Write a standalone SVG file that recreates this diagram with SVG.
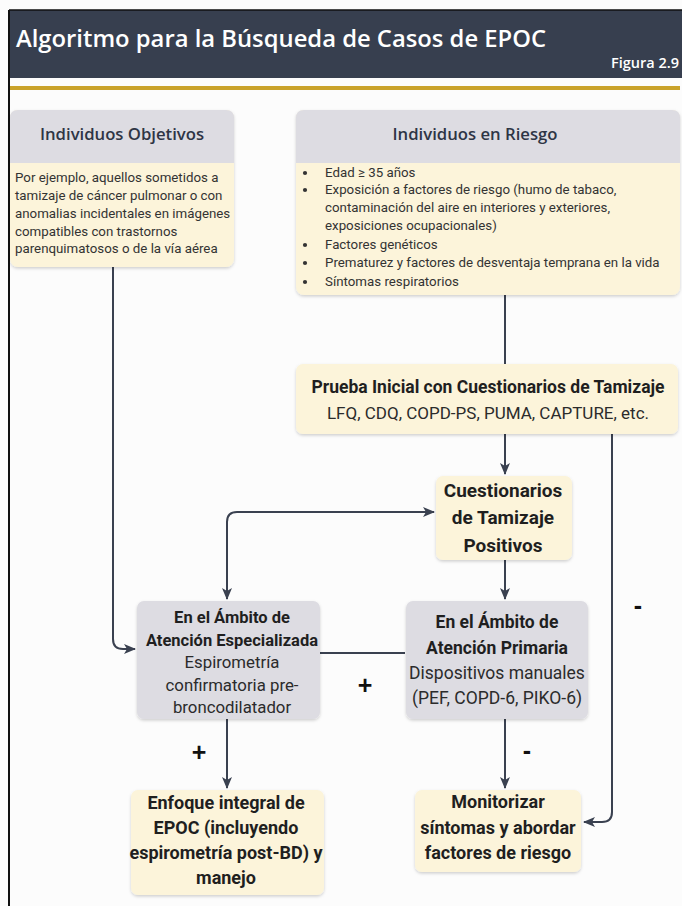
<svg xmlns="http://www.w3.org/2000/svg" width="682" height="906" viewBox="0 0 682 906">
<defs>
<marker id="ah" viewBox="0 0 12 10" refX="11" refY="5" markerWidth="12" markerHeight="10" markerUnits="userSpaceOnUse" orient="auto-start-reverse">
<path d="M0,0 L12,5 L0,10 L3,5 Z" fill="#3a4150"/>
</marker>
<filter id="sh" x="-10%" y="-10%" width="120%" height="130%">
<feDropShadow dx="0" dy="1.5" stdDeviation="1.5" flood-color="#000" flood-opacity="0.18"/>
</filter>
</defs>
<style>
.hdr{font-family:"Open Sans","Liberation Sans",sans-serif;font-weight:600;fill:#2e3545}
.body{font-family:Roboto,"Liberation Sans",sans-serif;fill:#333333}
.b{font-family:Roboto,"Liberation Sans",sans-serif;font-weight:700;fill:#1f1f1f}
.r{font-family:Roboto,"Liberation Sans",sans-serif;font-weight:400;fill:#2b2b2b}
.gray{fill:#dddce2}
.cream{fill:#fcf4da}
.conn{fill:none;stroke:#3a4150;stroke-width:2}
.sign{font-family:"Liberation Sans",sans-serif;font-weight:700;fill:#111;font-size:25px}
</style>
<rect x="0" y="0" width="682" height="906" fill="#fcfcfc"/>
<rect x="9" y="10" width="673" height="68" fill="#373f4f"/>
<line x1="9" y1="10" x2="682" y2="10" stroke="#111" stroke-width="1.5"/>
<line x1="9" y1="10" x2="9" y2="906" stroke="#111" stroke-width="2"/>
<text x="16" y="47" font-family="'Open Sans','Liberation Sans',sans-serif" font-weight="600" font-size="23.8" fill="#ffffff">Algoritmo para la Búsqueda de Casos de EPOC</text>
<text x="679" y="68" text-anchor="end" font-family="'Open Sans','Liberation Sans',sans-serif" font-weight="600" font-size="14.5" fill="#ffffff">Figura 2.9</text>
<rect x="10" y="86" width="670" height="4" fill="#c9a22a"/>

<g id="connectors">
<path class="conn" d="M113,267 V639 Q113,649 123,649 H135" marker-end="url(#ah)"/>
<path class="conn" d="M505,295 V364"/>
<path class="conn" d="M505,434 V474" marker-end="url(#ah)"/>
<path class="conn" d="M612,434 V812 Q612,822 602,822 H584" marker-end="url(#ah)"/>
<path class="conn" d="M434,512 H237 Q227,512 227,522 V599" marker-start="url(#ah)" marker-end="url(#ah)"/>
<path class="conn" d="M505,560 V599" marker-end="url(#ah)"/>
<path class="conn" d="M320,653 H405"/>
<path class="conn" d="M227,719 V788" marker-end="url(#ah)"/>
<path class="conn" d="M505,719 V788" marker-end="url(#ah)"/>
<text class="sign" x="199" y="761" text-anchor="middle">+</text>
<text class="sign" x="527" y="759" text-anchor="middle">-</text>
<text class="sign" x="365" y="694" text-anchor="middle">+</text>
<text class="sign" x="638" y="614" text-anchor="middle">-</text>
</g>

<g id="individuos-objetivos">
<g filter="url(#sh)">
<rect x="10" y="110" width="224" height="157" rx="8" class="cream"/>
<path d="M10,163 V118 Q10,110 18,110 H226 Q234,110 234,118 V163 Z" class="gray"/>
</g>
<text class="hdr" x="122" y="140" text-anchor="middle" font-size="16.7">Individuos Objetivos</text>
<g class="body" font-size="13.3">
<text x="15" y="182">Por ejemplo, aquellos sometidos a</text>
<text x="15" y="200">tamizaje de cáncer pulmonar o con</text>
<text x="15" y="218">anomalias incidentales en imágenes</text>
<text x="15" y="236">compatibles con trastornos</text>
<text x="15" y="253">parenquimatosos o de la vía aérea</text>
</g>
</g>

<g id="individuos-riesgo">
<g filter="url(#sh)">
<rect x="296" y="110" width="384" height="185" rx="8" class="cream"/>
<path d="M296,163 V118 Q296,110 304,110 H672 Q680,110 680,118 V163 Z" class="gray"/>
</g>
<text class="hdr" x="475" y="140" text-anchor="middle" font-size="16.7">Individuos en Riesgo</text>
<g class="body" font-size="13.3">
<circle cx="305" cy="173" r="2.1" fill="#333333"/>
<text x="325" y="177">Edad ≥ 35 años</text>
<circle cx="305" cy="190" r="2.1" fill="#333333"/>
<text x="325" y="194">Exposición a factores de riesgo (humo de tabaco,</text>
<text x="325" y="212">contaminación del aire en interiores y exteriores,</text>
<text x="325" y="230">exposiciones ocupacionales)</text>
<circle cx="305" cy="245" r="2.1" fill="#333333"/>
<text x="325" y="249">Factores genéticos</text>
<circle cx="305" cy="263" r="2.1" fill="#333333"/>
<text x="325" y="267">Prematurez y factores de desventaja temprana en la vida</text>
<circle cx="305" cy="282" r="2.1" fill="#333333"/>
<text x="325" y="286">Síntomas respiratorios</text>
</g>
</g>

<g id="prueba-inicial">
<rect x="296" y="364" width="382" height="70" rx="7" class="cream" filter="url(#sh)"/>
<text class="b" x="488" y="393" text-anchor="middle" font-size="17.5">Prueba Inicial con Cuestionarios de Tamizaje</text>
<text class="r" x="488" y="419" text-anchor="middle" font-size="17">LFQ, CDQ, COPD-PS, PUMA, CAPTURE, etc.</text>
</g>

<g id="cuestionarios-positivos">
<rect x="436" y="476" width="136" height="84" rx="7" class="cream" filter="url(#sh)"/>
<g class="b" font-size="19" text-anchor="middle">
<text x="503" y="497">Cuestionarios</text>
<text x="503" y="524">de Tamizaje</text>
<text x="503" y="552">Positivos</text>
</g>
</g>

<g id="atencion-especializada">
<rect x="137" y="601" width="183" height="118" rx="7" class="gray" filter="url(#sh)"/>
<g text-anchor="middle">
<text class="b" x="232" y="623" font-size="16.5">En el Ámbito de</text>
<text class="b" x="232" y="646" font-size="16.5">Atención Especializada</text>
<text class="r" x="232" y="668" font-size="16.8">Espirometría</text>
<text class="r" x="232" y="691" font-size="16.8">confirmatoria pre-</text>
<text class="r" x="232" y="713" font-size="16.8">broncodilatador</text>
</g>
</g>

<g id="atencion-primaria">
<rect x="406" y="601" width="182" height="118" rx="7" class="gray" filter="url(#sh)"/>
<g text-anchor="middle">
<text class="b" x="497" y="628" font-size="17.5">En el Ámbito de</text>
<text class="b" x="497" y="654" font-size="17.5">Atención Primaria</text>
<text class="r" x="497" y="679" font-size="17.5">Dispositivos manuales</text>
<text class="r" x="497" y="704" font-size="17.5">(PEF, COPD-6, PIKO-6)</text>
</g>
</g>

<g id="enfoque-integral">
<rect x="131" y="790" width="193" height="105" rx="7" class="cream" filter="url(#sh)"/>
<g class="b" font-size="18" text-anchor="middle">
<text x="226" y="809">Enfoque integral de</text>
<text x="226" y="834">EPOC (incluyendo</text>
<text x="226" y="859">espirometría post-BD) y</text>
<text x="226" y="884">manejo</text>
</g>
</g>

<g id="monitorizar">
<rect x="415" y="790" width="166" height="82" rx="7" class="cream" filter="url(#sh)"/>
<g class="b" font-size="18" text-anchor="middle">
<text x="498" y="808">Monitorizar</text>
<text x="498" y="834">síntomas y abordar</text>
<text x="498" y="859">factores de riesgo</text>
</g>
</g>
</svg>
